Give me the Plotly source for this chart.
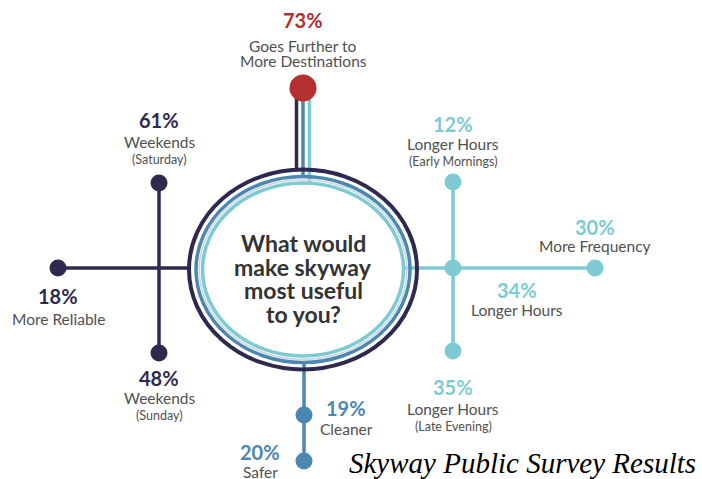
import plotly.graph_objects as go

# ---- data ----
categories = ["Goes Further to More Destinations", "Weekends (Saturday)", "More Reliable",
              "Weekends (Sunday)", "Longer Hours (Early Mornings)", "More Frequency",
              "Longer Hours", "Longer Hours (Late Evening)", "Cleaner", "Safer"]
values = [73, 61, 18, 48, 12, 30, 34, 35, 19, 20]
main_labels = [["Goes Further to", "More Destinations"], ["Weekends"], ["More Reliable"], ["Weekends"],
               ["Longer Hours"], ["More Frequency"], ["Longer Hours"], ["Longer Hours"], ["Cleaner"], ["Safer"]]
sub_labels = ["", "(Saturday)", "", "(Sunday)", "(Early Mornings)", "", "", "(Late Evening)", "", ""]
groups = ["top", "left", "left", "left", "right", "right", "right", "right", "bottom", "bottom"]
question_lines = ["What would", "make skyway", "most useful", "to you?"]
title_text = "Skyway Public Survey Results"

# ---- layout (positions / styles) ----
NAVY, STEEL, TEAL, RED, GRAY = "#2e2a4f", "#4b87b0", "#7ecad3", "#b3302e", "#505050"
group_color = {"top": RED, "left": NAVY, "right": TEAL, "bottom": STEEL}
node_xy = [(303, 88), (159, 183), (58, 268), (159, 353), (453, 182), (595, 268),
           (453, 268), (453, 351), (304, 415), (304, 461)]
label_xy = [(303, 20), (159, 120), (58, 296), (159, 378), (453, 124), (595, 227),
            (517, 290), (453, 387), (346, 408), (260, 452)]
main_offset = [26, 22, 23, 20, 20, 19, 20, 22, 21, 20]
cx, cy = 303, 269.5

fig = go.Figure()
shapes = []

def line(x0, y0, x1, y1, color, w):
    fig.add_trace(go.Scatter(x=[x0, x1], y=[y0, y1], mode="lines",
                             line=dict(color=color, width=w), hoverinfo="skip", showlegend=False))

# rings
for rx, ry, col, w in [(114, 100, NAVY, 4), (107, 93, STEEL, 3.5), (103.8, 89.8, "#c8d6df", 1.5),
                       (100.5, 86.5, TEAL, 3.5)]:
    shapes.append(dict(type="circle", xref="x", yref="y", x0=cx - rx, x1=cx + rx,
                       y0=cy - ry, y1=cy + ry, line=dict(color=col, width=w)))

# top stems
line(296.5, 170, 296.5, 92, NAVY, 3.5)
line(303, 177, 303, 92, STEEL, 3.5)
line(309.5, 183, 309.5, 92, TEAL, 3.5)
# left branch
line(189, 268, 58, 268, NAVY, 3.5)
line(159, 183, 159, 353, NAVY, 3.5)
# right branch
line(403, 268, 595, 268, TEAL, 3.5)
line(453, 182, 453, 351, TEAL, 3.5)
# bottom branch
line(304, 362, 304, 461, STEEL, 3.5)

# nodes
for i in range(len(values)):
    col = group_color[groups[i]]
    size = 27 if groups[i] == "top" else 17
    fig.add_trace(go.Scatter(x=[node_xy[i][0]], y=[node_xy[i][1]], mode="markers",
                             marker=dict(color=col, size=size, line=dict(width=0)),
                             hovertext=f"{categories[i]}: {values[i]}%", hoverinfo="text",
                             showlegend=False))

annotations = []
FONT = "Lato, Open Sans, sans-serif"
for i in range(len(values)):
    col = group_color[groups[i]]
    lx, ly = label_xy[i]
    annotations.append(dict(x=lx, y=ly, text=f"<b>{values[i]}%</b>", showarrow=False,
                            font=dict(family=FONT, size=20, color=col), xanchor="center", yanchor="middle"))
    y = ly + main_offset[i]
    for k, t in enumerate(main_labels[i]):
        annotations.append(dict(x=lx, y=y, text=t, showarrow=False,
                                font=dict(family=FONT, size=15.5, color=GRAY), xanchor="center",
                                yanchor="middle"))
        if k < len(main_labels[i]) - 1:
            y += 15
    if sub_labels[i]:
        annotations.append(dict(x=lx, y=y + 17.5, text=sub_labels[i], showarrow=False,
                                font=dict(family=FONT, size=12.5, color=GRAY), xanchor="center",
                                yanchor="middle"))

for k, t in enumerate(question_lines):
    annotations.append(dict(x=cx, y=243 + 23.5 * k, text=f"<b>{t}</b>", showarrow=False,
                            font=dict(family=FONT, size=23, color="#333333"), xanchor="center",
                            yanchor="middle"))
annotations.append(dict(x=698, y=463, text=f"<i>{title_text}</i>", showarrow=False,
                        font=dict(family="Liberation Serif, Times New Roman, serif", size=29,
                                  color="#000000"), xanchor="right", yanchor="middle"))

fig.update_layout(
    width=702, height=479, margin=dict(l=0, r=0, t=0, b=0),
    paper_bgcolor="white", plot_bgcolor="white",
    xaxis=dict(range=[0, 702], visible=False, fixedrange=True),
    yaxis=dict(range=[479, 0], visible=False, fixedrange=True),
    shapes=shapes, annotations=annotations, showlegend=False,
)
fig.write_html("out.html")
